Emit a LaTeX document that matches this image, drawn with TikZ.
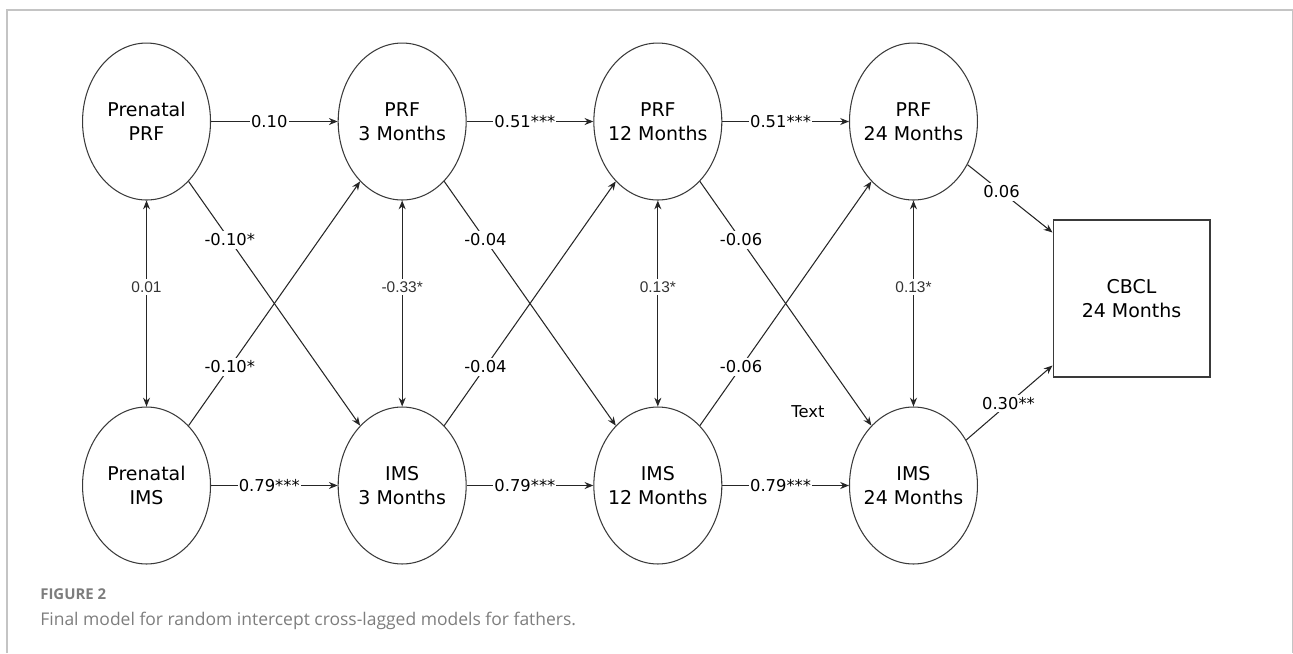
\documentclass[tikz,border=0pt]{standalone}
\usepackage{fontspec}
\setmainfont{DejaVu Sans}
\newfontfamily\labfont{Liberation Sans}
\newfontfamily\capfont{Open Sans}
\usepackage{tikz}
\usetikzlibrary{positioning,matrix,arrows.meta,shapes.geometric}

\definecolor{framegray}{HTML}{C4C4C4}
\definecolor{capgray}{HTML}{7D7D7D}
\definecolor{inkgray}{HTML}{3A3A3A}

\begin{document}
\begin{tikzpicture}[
    x=0.02cm, y=-0.02cm,
    latent/.style={ellipse, draw=inkgray, line width=0.6pt, minimum width=2.56cm, minimum height=3.14cm,
      inner xsep=-10pt, inner ysep=0pt, align=center, font=\fontsize{10.8}{13.6}\selectfont},
    observed/.style={rectangle, draw=inkgray, line width=0.6pt, minimum size=3.14cm, align=center,
      font=\fontsize{10.8}{13.6}\selectfont},
    % one-headed and two-headed paths
    arr/.style={-{Stealth[length=5pt,width=4pt]}, line width=0.6pt, draw=black!85},
    dbl/.style={{Stealth[length=5pt,width=4pt]}-{Stealth[length=5pt,width=4pt]}, line width=0.6pt, draw=black!85},
    % labels: on the horizontal paths, on the cross paths, on the covariances
    hlab/.style={pos=0.46, fill=white, inner sep=0.6pt, font=\fontsize{9.3}{10}\selectfont},
    xlab/.style={pos=0.24, fill=white, inner sep=1.5pt, font=\fontsize{9.3}{10}\selectfont},
    vlab/.style={pos=0.42, fill=white, inner sep=1.5pt, font=\labfont\fontsize{8.8}{10}\selectfont, text=black!80}
  ]
    \useasboundingbox (0,0) rectangle (1293,653);
    \draw[framegray, line width=0.6pt] (7,653) -- (7,10) -- (1292.5,10) -- (1292.5,653);

    %--- Latent variables: PRF on top, IMS below ---
    \matrix[row sep=4.12cm, column sep=2.533cm] (M) at (530,303.5) {
      \node[latent] (pprf) {Prenatal\\PRF}; &
      \node[latent] (prf3) {PRF\\3 Months}; &
      \node[latent] (prf12) {PRF\\12 Months}; &
      \node[latent] (prf24) {PRF\\24 Months}; \\
      \node[latent] (pims) {Prenatal\\IMS}; &
      \node[latent] (ims3) {IMS\\3 Months}; &
      \node[latent] (ims12) {IMS\\12 Months}; &
      \node[latent] (ims24) {IMS\\24 Months}; \\
    };

    %--- Outcome
    \node[observed] (cbcl) at (1131.5,298.5) {CBCL\\24 Months};
    \coordinate (cbclA) at ([yshift=-0.26cm]cbcl.north west);
    \coordinate (cbclB) at ([yshift=0.24cm]cbcl.south west);

    %--- Autoregressive paths
    \draw[arr] (pprf) -- node[hlab]{0.10} (prf3);
    \draw[arr] (prf3) -- node[hlab]{0.51***} (prf12);
    \draw[arr] (prf12) -- node[hlab]{0.51***} (prf24);
    \draw[arr] (pims) -- node[hlab]{0.79***} (ims3);
    \draw[arr] (ims3) -- node[hlab]{0.79***} (ims12);
    \draw[arr] (ims12) -- node[hlab]{0.79***} (ims24);

    %--- Within-time covariances
    \draw[dbl] (pprf) -- node[vlab]{0.01} (pims);
    \draw[dbl] (prf3) -- node[vlab]{-0.33*} (ims3);
    \draw[dbl] (prf12) -- node[vlab]{0.13*} (ims12);
    \draw[dbl] (prf24) -- node[vlab]{0.13*} (ims24);

    %--- Cross-lagged paths
    \draw[arr] (pprf) -- node[xlab]{-0.10*} (ims3);
    \draw[arr] (pims) -- node[xlab]{-0.10*} (prf3);
    \draw[arr] (prf3) -- node[xlab]{-0.04} (ims12);
    \draw[arr] (ims3) -- node[xlab]{-0.04} (prf12);
    \draw[arr] (prf12) -- node[xlab]{-0.06} (ims24);
    \draw[arr] (ims12) -- node[xlab]{-0.06} (prf24);

    %--- Paths to the outcome
    \draw[arr] (prf24) -- node[xlab, pos=0.4]{0.06} (cbclA);
    \draw[arr] (ims24) -- node[xlab, pos=0.49]{0.30**} (cbclB);

    \node[font=\fontsize{9.3}{10}\selectfont] (stray) at (808,412) {Text};

    %--- Caption
    \node[anchor=base west, inner sep=0pt, text=capgray, font=\capfont\bfseries\fontsize{8.5}{10}\selectfont] (figno) at (40,599) {FIGURE 2};
    \node[anchor=base west, inner sep=0pt, text=capgray, font=\capfont\fontsize{9.95}{12}\selectfont] (figcap) at (40,625) {Final model for random intercept cross-lagged models for fathers.};
\end{tikzpicture}
\end{document}
